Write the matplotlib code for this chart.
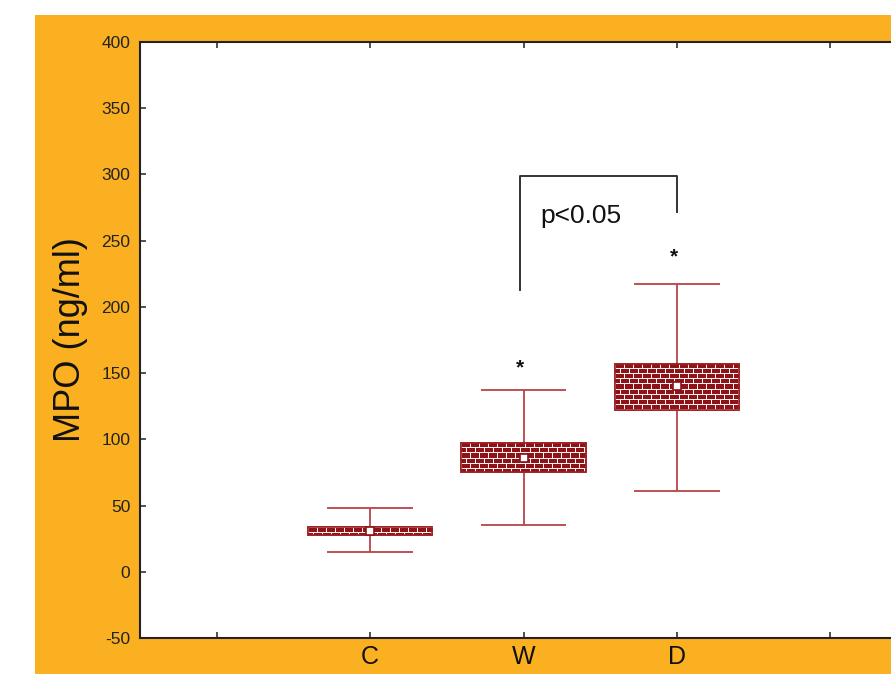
import numpy as np
import matplotlib
matplotlib.use('Agg')
from matplotlib import pyplot as plt
from matplotlib.patches import Rectangle

# Box summary values (ng/ml)
groups = ['C', 'W', 'D']
positions = [2, 3, 4]
whisker_low = [15, 35, 61]
q1 = [28, 75, 122]
mean = [31, 86, 140]
q3 = [34, 97, 157]
whisker_high = [48, 137, 217]

xtick_pos = [1, 2, 3, 4, 5]
xtick_labels = ['', 'C', 'W', 'D', '']
yticks = list(range(-50, 401, 50))

# Significance annotation
star_pos = [3, 4]
star_y = [154, 238]
bracket_x = [2.98, 2.98, 4.0, 4.0]
bracket_y = [213, 299, 299, 272]

plt.rcParams['font.family'] = ['Liberation Sans', 'DejaVu Sans']

orange = '#FBB021'
box_red = '#8C1418'
edge_red = '#9E2226'
whisk_red = '#B84448'

f = plt.figure(figsize=(8.91, 6.74), dpi=100)
f.patch.set_facecolor('white')
f.patches.append(Rectangle((35 / 891, 0), 1, 1 - 15 / 674, transform=f.transFigure,
                           facecolor=orange, edgecolor='none', zorder=-10))

ax = f.add_axes([140 / 891, 1 - 638 / 674, 767 / 891, 596 / 674])
ax.set_facecolor('white')
ax.set_xlim(0.5, 5.5)
ax.set_ylim(-50, 400)

box_w = 0.81
cap_w = 0.56


def brick_texture(w, h, bw=9, bh=5):
    # dark red bricks with white mortar lines
    img = np.ones((h, w, 3))
    img[:] = matplotlib.colors.to_rgb(box_red)
    mortar = (1.0, 0.94, 0.94)
    for r in range(h):
        row = r // bh
        if r % bh == 0:
            img[r, :] = mortar
            continue
        off = (bw // 2) if row % 2 else 0
        for c in range(w):
            if (c + off) % bw == 0:
                img[r, c] = mortar
    return img


for i in range(len(groups)):
    x = positions[i]
    # whiskers and caps
    ax.vlines(x, whisker_low[i], q1[i], color=whisk_red, lw=1.3, zorder=2)
    ax.vlines(x, q3[i], whisker_high[i], color=whisk_red, lw=1.3, zorder=2)
    ax.hlines([whisker_low[i], whisker_high[i]], x - cap_w / 2, x + cap_w / 2,
              color=whisk_red, lw=1.3, zorder=2)
    # box with brick pattern
    rect = Rectangle((x - box_w / 2, q1[i]), box_w, q3[i] - q1[i],
                     facecolor=box_red, edgecolor=edge_red, lw=1.2, zorder=3)
    ax.add_patch(rect)
    p0 = ax.transData.transform((x - box_w / 2, q1[i]))
    p1 = ax.transData.transform((x + box_w / 2, q3[i]))
    wpx = max(int(round(p1[0] - p0[0])), 2)
    hpx = max(int(round(p1[1] - p0[1])), 2)
    im = ax.imshow(brick_texture(wpx, hpx),
                   extent=(x - box_w / 2, x + box_w / 2, q1[i], q3[i]),
                   aspect='auto', interpolation='nearest', origin='upper', zorder=3.5)
    im.set_clip_path(rect)
    ax.add_patch(Rectangle((x - box_w / 2, q1[i]), box_w, q3[i] - q1[i],
                           facecolor='none', edgecolor=edge_red, lw=1.2, zorder=4))
    # mean marker
    ax.plot(x, mean[i], marker='s', ms=6, mfc='white', mec=box_red, mew=1.2, zorder=5)

ax.set_xlim(0.5, 5.5)
ax.set_ylim(-50, 400)

# significance bracket and stars
ax.plot(bracket_x, bracket_y, color='#333333', lw=1.4, zorder=2)
ax.text(3.11, 263, 'p<0.05', fontsize=19, color='#111111', ha='left', va='baseline')
for sx, sy in zip(star_pos, star_y):
    ax.text(sx - 0.02, sy, '*', fontsize=15, fontweight='bold', ha='center', va='center',
            color='#111111')

ax.set_xticks(xtick_pos)
ax.set_xticklabels(xtick_labels, fontsize=18, color='#111111')
ax.set_yticks(yticks)
ax.set_yticklabels([str(v) for v in yticks], fontsize=12.5, color='#222222')
ax.tick_params(axis='both', direction='in', top=True, right=True, length=4, width=1.2,
               color='#333333')
ax.tick_params(axis='x', pad=5)
ax.tick_params(axis='y', pad=7)
for s in ax.spines.values():
    s.set_linewidth(1.5)
    s.set_color('#222222')

f.text(70 / 891, 0.4955, 'MPO (ng/ml)', rotation=90, ha='center', va='center',
       fontsize=26, color='#111111')

plt.savefig('out.png', dpi=100, facecolor=f.get_facecolor())
